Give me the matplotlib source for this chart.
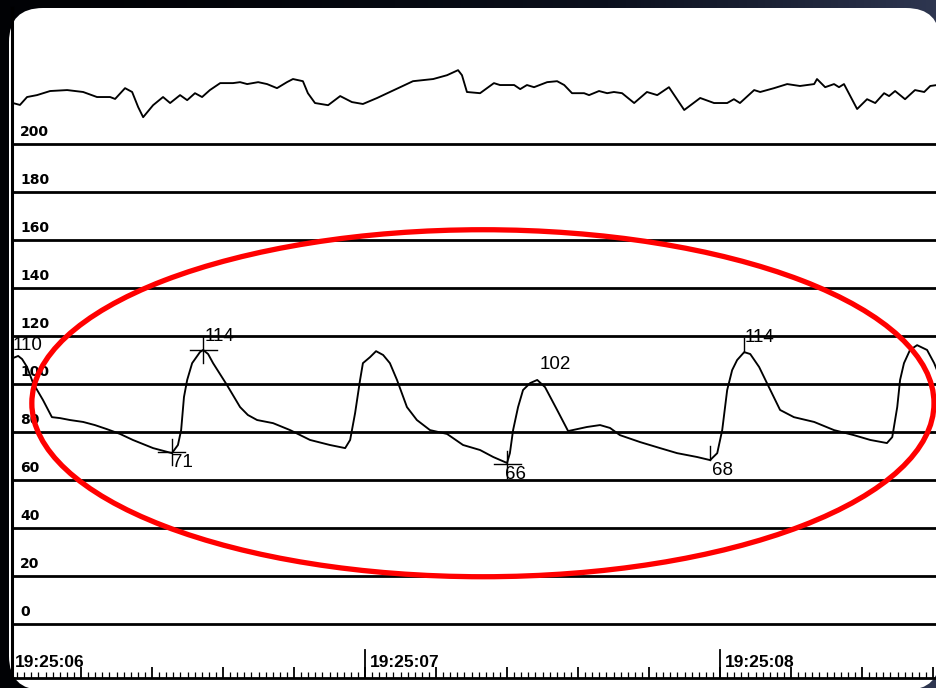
import numpy as np
import matplotlib
matplotlib.use("Agg")
import matplotlib.pyplot as plt
from matplotlib.patches import FancyBboxPatch, Ellipse
from matplotlib.ticker import MultipleLocator
from matplotlib.colors import LinearSegmentedColormap

# ---------------- data ----------------
# arterial pressure trace (time in s, pressure in mmHg)
art_t = [6.008, 6.023, 6.034, 6.048, 6.065, 6.093, 6.118, 6.141, 6.169, 6.206, 6.239, 6.273,
         6.310, 6.346, 6.403, 6.456, 6.473, 6.482, 6.490, 6.499, 6.513, 6.535, 6.544, 6.558,
         6.572, 6.611, 6.648, 6.670, 6.696, 6.741, 6.789, 6.845, 6.901, 6.944, 6.958, 6.972,
         6.986, 6.994, 7.014, 7.031, 7.051, 7.070, 7.090, 7.118, 7.146, 7.183, 7.231, 7.276,
         7.324, 7.361, 7.400, 7.408, 7.417, 7.431, 7.445, 7.465, 7.485, 7.507, 7.541, 7.572,
         7.597, 7.625, 7.662, 7.690, 7.718, 7.775, 7.831, 7.879, 7.935, 7.972, 7.992, 8.006,
         8.020, 8.034, 8.048, 8.068, 8.085, 8.110, 8.132, 8.169, 8.208, 8.265, 8.321, 8.377,
         8.423, 8.470, 8.485, 8.499, 8.507, 8.518, 8.535, 8.555, 8.583, 8.603, 8.611]
art_v = [110.8, 111.7, 110.4, 107.1, 100.4, 93.3, 86.2, 85.8, 85.0, 84.2, 82.9, 81.2,
         79.2, 76.7, 73.3, 71.2, 74.6, 80.8, 94.6, 101.7, 108.7, 113.3, 114.2, 112.5,
         108.7, 99.6, 90.4, 87.1, 85.0, 83.7, 80.8, 76.7, 74.6, 73.3, 76.7, 87.9,
         101.7, 108.7, 111.2, 113.7, 112.1, 108.7, 101.7, 90.4, 85.0, 80.8, 79.2, 74.6,
         72.5, 69.6, 67.1, 71.2, 80.8, 90.4, 97.5, 100.4, 101.7, 98.7, 89.2, 80.4,
         81.2, 82.1, 82.9, 81.7, 78.7, 75.8, 73.3, 71.2, 69.6, 68.3, 71.2, 80.8,
         97.5, 105.8, 110.0, 113.3, 112.5, 107.1, 100.4, 89.2, 86.2, 84.2, 80.8, 78.7,
         76.7, 75.4, 77.9, 90.4, 101.7, 108.7, 114.2, 116.2, 114.2, 108.7, 105.8]

# upper trace (drawn in the band above 200)
top_t = [6.008, 6.028, 6.048, 6.076, 6.113, 6.161, 6.206, 6.245, 6.282, 6.296, 6.324, 6.344,
         6.361, 6.375, 6.403, 6.431, 6.451, 6.479, 6.499, 6.521, 6.541, 6.563, 6.592, 6.628,
         6.648, 6.668, 6.699, 6.724, 6.752, 6.780, 6.797, 6.825, 6.839, 6.859, 6.896, 6.930,
         6.963, 6.994, 7.034, 7.070, 7.099, 7.135, 7.192, 7.231, 7.262, 7.273, 7.287, 7.324,
         7.363, 7.380, 7.420, 7.437, 7.456, 7.476, 7.513, 7.541, 7.561, 7.583, 7.617, 7.631,
         7.659, 7.682, 7.701, 7.724, 7.758, 7.794, 7.823, 7.856, 7.899, 7.944, 7.983, 8.020,
         8.039, 8.056, 8.096, 8.113, 8.152, 8.189, 8.225, 8.265, 8.273, 8.296, 8.321, 8.335,
         8.349, 8.386, 8.414, 8.437, 8.462, 8.476, 8.493, 8.521, 8.549, 8.575, 8.592, 8.611]
top_v = [217.1, 216.3, 219.6, 220.4, 222.1, 222.5, 221.7, 219.6, 219.6, 218.8, 223.3, 221.7,
         215.4, 211.2, 216.2, 219.6, 217.1, 220.4, 218.3, 221.2, 219.6, 222.5, 225.4, 225.4,
         225.8, 225.0, 225.8, 225.0, 223.3, 225.8, 227.1, 226.2, 221.2, 217.1, 216.2, 220.0,
         217.5, 216.7, 219.2, 221.7, 223.7, 226.2, 227.1, 228.7, 230.8, 228.7, 221.7, 221.2,
         225.4, 224.6, 224.6, 222.9, 224.6, 223.7, 225.8, 226.2, 224.6, 221.2, 221.2, 220.4,
         222.1, 221.2, 221.7, 221.2, 217.1, 221.7, 220.4, 223.7, 214.2, 219.2, 217.1, 217.1,
         218.7, 217.1, 222.5, 221.7, 223.3, 225.0, 224.2, 225.0, 227.1, 223.7, 225.0, 223.7,
         225.0, 214.6, 218.7, 217.1, 221.2, 220.0, 222.1, 218.7, 222.5, 221.7, 224.2, 224.6]

grid_levels = [0, 20, 40, 60, 80, 100, 120, 140, 160, 180, 200]
y_labels = ["0", "20", "40", "60", "80", "100", "120", "140", "160", "180", "200"]

second_ticks = [6.0, 7.0, 8.0]
time_labels = ["19:25:06", "19:25:07", "19:25:08"]

# annotated beats: label text, anchor time, anchor value
ann_text = ["110", "114", "71", "102", "66", "114", "68"]
ann_t = [6.008, 6.549, 6.456, 7.493, 7.394, 8.070, 7.977]
ann_v = [116.2, 120.0, 67.1, 108.3, 62.5, 119.6, 63.8]

# cross markers: centre time, centre value
cross_t = [6.544, 6.456, 7.400]
cross_v = [114.2, 71.6, 66.5]
tick_only_t = [7.972, 8.068]
tick_only_v = [68.3, 113.3]

# ---------------- figure ----------------
W, H = 937, 688
fig = plt.figure(figsize=(W / 100, H / 100), dpi=100)

# dark gradient background
bg = fig.add_axes([0, 0, 1, 1], zorder=-10)
grad = np.linspace(0, 1, 256)[None, :]
cmap = LinearSegmentedColormap.from_list("bg", ["#010205", "#0b101d", "#2e3650"])
bg.imshow(grad ** 1.6, aspect="auto", cmap=cmap, extent=[0, 1, 0, 1])
bg.set_axis_off()

# white rounded panel (inches)
panel = FancyBboxPatch((0.09, -0.02), 9.31, 6.82,
                       boxstyle="round,pad=0,rounding_size=0.34",
                       transform=fig.dpi_scale_trans, facecolor="white",
                       edgecolor="none", zorder=-5)
fig.patches.append(panel)

ax = fig.add_axes([12 / W, 10 / H, 925 / W, 670 / H])
ax.patch.set_visible(False)
ax.set_xlim(6.0056, 8.611)
ax.set_ylim(-22.5, 256.7)

for s in ["top", "right"]:
    ax.spines[s].set_visible(False)
ax.spines["left"].set_linewidth(2.2)
ax.spines["bottom"].set_linewidth(2.0)

# horizontal scale lines
for lv, lab in zip(grid_levels, y_labels):
    ax.axhline(lv, color="black", lw=2.0, zorder=2)
    ax.text(6.028, lv + 5.0, lab, fontsize=10, fontweight="bold",
            family="DejaVu Sans", ha="left", va="center", zorder=3)

# traces
ax.plot(art_t, art_v, color="black", lw=1.35, zorder=4)
ax.plot(top_t, top_v, color="black", lw=1.35, zorder=4)

# cross markers
for ct, cv in zip(cross_t, cross_v):
    ax.plot([ct - 0.038, ct + 0.038], [cv, cv], color="black", lw=1.0, zorder=4)
    ax.plot([ct, ct], [cv - 5.5, cv + 5.5], color="black", lw=1.0, zorder=4)
for ct, cv in zip(tick_only_t, tick_only_v):
    ax.plot([ct, ct], [cv, cv + 6.0], color="black", lw=1.0, zorder=4)

for txt, t, v in zip(ann_text, ann_t, ann_v):
    ax.text(t, v, txt, fontsize=13.5, family="Liberation Sans",
            ha="left", va="center", zorder=5)

# time axis
ax.set_yticks([])
ax.xaxis.set_major_locator(MultipleLocator(0.2))
ax.xaxis.set_minor_locator(MultipleLocator(0.02))
ax.tick_params(axis="x", which="major", direction="in", length=8, width=1.3,
               labelbottom=False)
ax.tick_params(axis="x", which="minor", direction="in", length=4, width=0.9)
for st, lab in zip(second_ticks, time_labels):
    ax.plot([st, st], [-22.5, -11.0], color="black", lw=1.3, zorder=4)
    ax.text(st + 0.014, -16.0, lab, fontsize=12.5, fontweight="bold",
            family="Liberation Sans", ha="left", va="center", zorder=5)

# red highlight ellipse
ell = Ellipse((7.332, 92.0), width=2.541, height=144.6, fill=False,
              edgecolor="#ff0000", lw=3.8, zorder=6)
ax.add_patch(ell)

fig.savefig("out.png", dpi=100, facecolor=fig.get_facecolor())
